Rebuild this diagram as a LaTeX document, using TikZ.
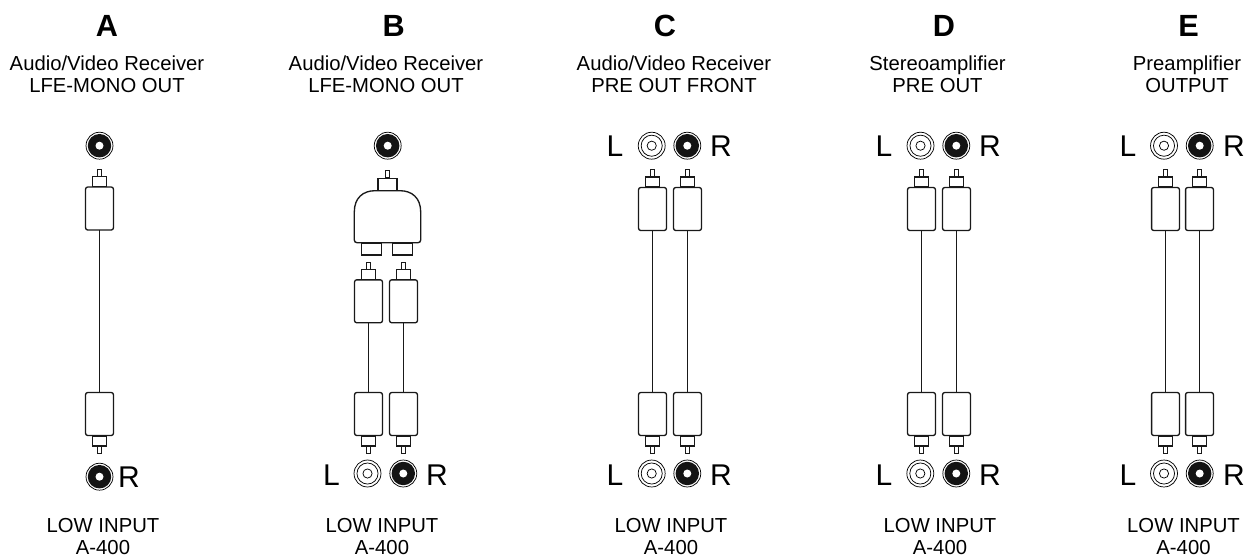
\documentclass[tikz,border=0pt]{standalone}
\usepackage{fontspec}
\setmainfont{Liberation Sans}
\tikzset{
  wire/.style={line width=1pt,draw=black!90,fill=white,rectangle,inner sep=0pt,outer sep=0pt},
  plugbody/.style={wire,rounded corners=1.6pt,minimum width=20.9pt,minimum height=32.2pt},
  plugcollar/.style={wire,minimum width=10.2pt,minimum height=7.5pt},
  plugpin/.style={wire,line width=.8pt,minimum width=2.6pt,minimum height=5.6pt},
  socketbox/.style={wire,minimum width=15pt,minimum height=9.2pt},
  cable/.style={line width=1pt,draw=black!90},
  ringo/.style={circle,draw=black,line width=.55pt,fill=white,minimum size=20.2pt,inner sep=0pt,outer sep=0pt},
  discb/.style={circle,fill=black!92,minimum size=17.6pt,inner sep=0pt,outer sep=0pt},
  holeb/.style={circle,fill=white,minimum size=6pt,inner sep=0pt},
  ringm/.style={circle,draw=black,line width=.55pt,fill=white,minimum size=15.8pt,inner sep=0pt},
  holew/.style={circle,draw=black,line width=.55pt,fill=white,minimum size=6.9pt,inner sep=0pt},
  head/.style={font=\fontsize{23}{26}\selectfont\bfseries,inner sep=0pt,anchor=center},
  desc/.style={font=\fontsize{15.2}{16.5}\selectfont,align=center,inner sep=0pt,anchor=center},
  lr/.style={font=\fontsize{22.5}{24}\selectfont,inner sep=0pt,anchor=center}
}
% name, x, body top y
\newcommand{\plugup}[3]{%
  \node[plugpin] (#1p) at (#2,#3-13.5) {};
  \node[plugcollar] (#1c) at (#2,#3-5) {};
  \node[plugbody] (#1) at (#2,#3+22) {};}
\newcommand{\plugdn}[3]{%
  \node[plugpin] (#1p) at (#2,#3+57.5) {};
  \node[plugcollar] (#1c) at (#2,#3+49) {};
  \node[plugbody] (#1) at (#2,#3+22) {};}
\newcommand{\jackb}[3]{%
  \node[ringo] (#1) at (#2,#3) {};
  \node[discb] (#1d) at (#2,#3) {};
  \node[holeb] (#1h) at (#2,#3) {};}
\newcommand{\jackw}[3]{%
  \node[ringo] (#1) at (#2,#3) {};
  \node[ringm] (#1d) at (#2,#3) {};
  \node[holew] (#1h) at (#2,#3) {};}
\begin{document}
\begin{tikzpicture}[x=0.75pt,y=-0.75pt]
\useasboundingbox (0,0) rectangle (1252,557);
% headings
\node[head] (hA) at (107,26) {A};
\node[head] (hB) at (393.7,26) {B};
\node[head] (hC) at (665,26) {C};
\node[head] (hD) at (944,26) {D};
\node[head] (hE) at (1188.5,26) {E};
% top text
\node[desc] (tA) at (107,74) {Audio/Video Receiver\\LFE-MONO OUT};
\node[desc] (tB) at (386,74) {Audio/Video Receiver\\LFE-MONO OUT};
\node[desc] (tC) at (674,74) {Audio/Video Receiver\\PRE OUT FRONT};
\node[desc] (tD) at (937.5,74) {Stereoamplifier\\PRE OUT};
\node[desc] (tE) at (1187,74) {Preamplifier\\OUTPUT};
% bottom text
\node[desc] (bA) at (103,537) {LOW INPUT\\A-400};
\node[desc] (bB) at (382,537) {LOW INPUT\\A-400};
\node[desc] (bC) at (671,537) {LOW INPUT\\A-400};
\node[desc] (bD) at (940,537) {LOW INPUT\\A-400};
\node[desc] (bE) at (1183.5,537) {LOW INPUT\\A-400};
% A
\jackb{ja}{99.5}{145.7}
\plugup{at}{99.5}{186.5}
\plugdn{ab}{99.5}{392}
\draw[cable] (at.south) -- (ab.north);
\jackb{jar}{99.5}{476.7}
\node[lr] (Ra) at (129,477.5) {R};
% B
\jackb{jb}{387.7}{145.7}
\node[plugpin] (bap) at (387.5,174) {};
\node[wire,minimum width=14.4pt,minimum height=9.4pt] (bac) at (387.5,184.5) {};
\node[socketbox] (bs1) at (371.7,249) {};
\node[socketbox] (bs2) at (402.2,249) {};
\draw[wire] (354.3,240) [rounded corners=2pt] -- (354.3,242.7) -- (420.7,242.7) [sharp corners] -- (420.7,212)
  .. controls (420.7,198) and (412,190.7) .. (400,190.7) -- (375,190.7)
  .. controls (363,190.7) and (354.3,198) .. (354.3,212) -- cycle;
\plugup{bt1}{368.5}{279.3}
\plugup{bt2}{403.5}{279.3}
\plugdn{bb1}{368.5}{392}
\plugdn{bb2}{403.5}{392}
\draw[cable] (bt1.south) -- (bb1.north);
\draw[cable] (bt2.south) -- (bb2.north);
\jackw{jbl}{367.5}{473.5}
\jackb{jbr}{403.3}{473.5}
\node[lr] (Lb) at (331.5,475) {L};
\node[lr] (Rb) at (437,475) {R};
% C
\jackw{jcl}{651.7}{145.7}
\jackb{jcr}{687.3}{145.7}
\node[lr] (Lct) at (615,146) {L};
\node[lr] (Rct) at (721,146) {R};
\plugup{ct1}{652.5}{187}
\plugup{ct2}{687.5}{187}
\plugdn{cb1}{652.5}{392}
\plugdn{cb2}{687.5}{392}
\draw[cable] (ct1.south) -- (cb1.north);
\draw[cable] (ct2.south) -- (cb2.north);
\jackw{jcbl}{651.7}{473.5}
\jackb{jcbr}{687.3}{473.5}
\node[lr] (Lcb) at (615,475) {L};
\node[lr] (Rcb) at (721,475) {R};
% D
\jackw{jdl}{920.5}{145.7}
\jackb{jdr}{956.3}{145.7}
\node[lr] (Ldt) at (884,146) {L};
\node[lr] (Rdt) at (990,146) {R};
\plugup{dt1}{921.5}{187}
\plugup{dt2}{956.5}{187}
\plugdn{db1}{921.5}{392}
\plugdn{db2}{956.5}{392}
\draw[cable] (dt1.south) -- (db1.north);
\draw[cable] (dt2.south) -- (db2.north);
\jackw{jdbl}{920.3}{473.5}
\jackb{jdbr}{956.3}{473.5}
\node[lr] (Ldb) at (884,475) {L};
\node[lr] (Rdb) at (990,475) {R};
% E
\jackw{jel}{1164}{145.7}
\jackb{jer}{1199.7}{145.7}
\node[lr] (Let) at (1128,146) {L};
\node[lr] (Ret) at (1234,146) {R};
\plugup{et1}{1165.5}{187}
\plugup{et2}{1199.5}{187}
\plugdn{eb1}{1165.5}{392}
\plugdn{eb2}{1199.5}{392}
\draw[cable] (et1.south) -- (eb1.north);
\draw[cable] (et2.south) -- (eb2.north);
\jackw{jebl}{1164}{473.5}
\jackb{jebr}{1199.7}{473.5}
\node[lr] (Leb) at (1128,475) {L};
\node[lr] (Reb) at (1234,475) {R};
\end{tikzpicture}
\end{document}
